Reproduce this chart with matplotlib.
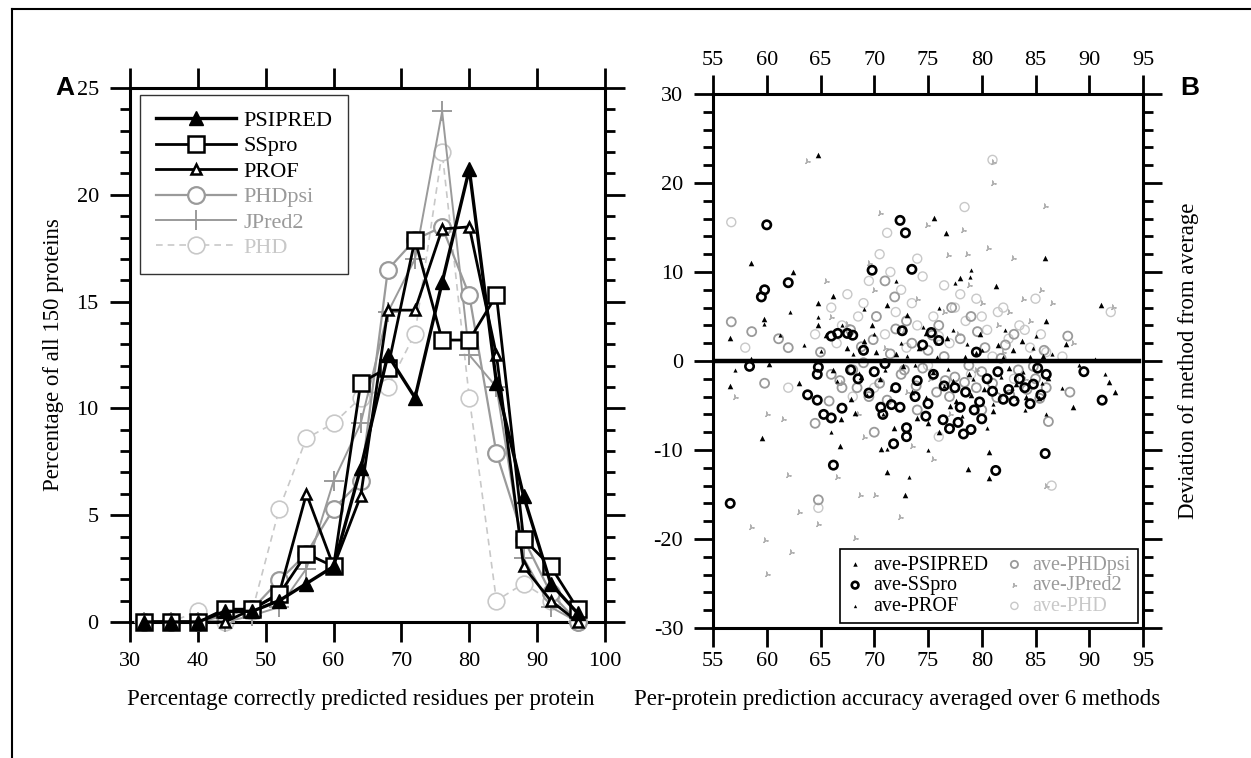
import matplotlib
matplotlib.use("Agg")
import matplotlib.pyplot as plt
from matplotlib.lines import Line2D
from matplotlib.ticker import MultipleLocator

plt.rcParams['font.family'] = ['Liberation Serif', 'DejaVu Serif']
plt.rcParams['axes.unicode_minus'] = False

# ---------------- Panel A data ----------------
bins = [32, 36, 40, 44, 48, 52, 56, 60, 64, 68, 72, 76, 80, 84, 88, 92, 96]
psipred = [0, 0, 0, 0.5, 0.5, 1.0, 1.8, 2.6, 7.2, 12.5, 10.5, 15.9, 21.2, 11.2, 5.9, 1.8, 0.4]
sspro = [0, 0, 0, 0.6, 0.6, 1.3, 3.2, 2.6, 11.2, 11.9, 17.9, 13.2, 13.2, 15.3, 3.9, 2.6, 0.6]
prof = [0, 0, 0, 0, 0.6, 1.35, 6.0, 2.6, 5.9, 14.6, 14.6, 18.4, 18.5, 12.5, 2.6, 1.0, 0]
phdpsi = [0, 0, 0, 0.3, 0.6, 1.95, 3.2, 5.3, 6.6, 16.5, 17.9, 18.5, 15.3, 7.9, 3.9, 1.35, 0]
jpred2 = [0, 0, 0, 0, 0.3, 0.7, 2.5, 6.6, 9.3, 14.5, 17.0, 23.9, 12.5, 11.0, 3.0, 0.7, 0]
phd = [0, 0, 0.5, 0, 0.5, 5.3, 8.6, 9.3, 10.5, 11.0, 13.5, 22.0, 10.5, 1.0, 1.8, 1.0, 0]

# ---------------- Panel B data ----------------
psi_x = [64.8, 75.6, 76.7, 85.9, 58.5, 62.4, 78.0, 81.3, 91.1, 64.8, 66.2, 71.2, 59.7, 56.6, 64.8,
         72.9, 71.2, 70.6, 59.6, 78.7, 80.7, 66.8, 56.6, 58.5, 60.2, 67.5, 69.0, 70.5, 72.0, 73.5,
         74.2, 75.5, 76.8, 77.6, 78.8, 79.5, 80.2, 81.5, 82.5, 83.2, 84.5, 85.3, 86.2, 87.8, 88.5,
         91.8, 92.4, 68.2, 71.8, 74.0, 76.0, 77.0, 65.5, 66.2, 63.0, 69.8, 73.0, 79.8, 83.7, 86.0,
         67.8, 80.7, 66.9, 68.8, 70.2, 72.7, 74.8, 77.3, 78.4, 81.0, 82.9, 84.1, 85.7, 75.0, 79.0]
psi_y = [23.1, 16.1, 14.4, 11.6, 11.0, 10.0, 9.3, 8.4, 6.3, 6.5, 7.3, 6.3, 4.7, 2.6, 4.0,
         -15.0, -12.5, -9.9, -8.6, -12.1, -13.1, -9.6, -2.8, 0.2, -0.3, 1.5, 2.2, -2.0, 0.8, -3.5,
         1.5, -1.2, 2.6, -4.5, -1.5, 0.9, -3.2, 1.8, -0.8, -2.6, 0.5, -4.2, -1.9, 1.9, -5.2,
         -2.4, -3.5, -5.8, -7.5, -6.4, -8.0, -5.0, 2.9, -1.0, -2.5, 4.1, 5.2, 3.0, 2.2, 4.5,
         -4.3, -10.2, -6.5, -1.8, 1.0, -0.6, 3.1, -2.2, 0.4, -5.6, 1.2, -4.0, 0.6, -7.0, -3.8]

ss_x = [60.0, 72.4, 72.9, 69.8, 73.5, 62.0, 59.8, 59.5, 66.6, 67.5, 72.6, 75.3, 56.6, 71.8, 66.2,
        81.3, 85.9, 91.2, 89.5, 58.4, 65.3, 66.0, 67.0, 64.7, 64.8, 63.8, 64.7, 70.6, 71.6, 72.4,
        73.0, 77.0, 78.3, 79.0, 77.8, 76.4, 79.3, 80.0, 82.0, 83.0, 83.5, 84.0, 68.5, 70.0, 71.0,
        74.0, 75.5, 76.5, 78.5, 80.5, 81.5, 84.8, 85.5, 86.0, 69.0, 72.0, 74.5, 76.0, 79.5, 66.0,
        73.0, 68.0, 69.5, 70.8, 73.8, 75.0, 77.5, 78.0, 79.8, 81.0, 82.5, 84.5, 85.2, 67.8, 74.8]
ss_y = [15.3, 15.8, 14.4, 10.2, 10.3, 8.8, 8.0, 7.2, 3.1, 3.1, 3.4, 3.2, -16.0, -9.3, -11.7,
        -12.3, -10.4, -4.4, -1.2, -0.6, -6.0, -6.4, -5.3, -1.5, -0.7, -3.8, -4.4, -5.2, -4.9, -5.2,
        -7.5, -7.6, -8.2, -7.7, -6.9, -6.6, -5.5, -6.5, -4.3, -4.5, -2.0, -3.0, -2.0, -1.2, -0.3,
        -2.2, -1.5, -2.8, -3.5, -2.0, -1.2, -2.6, -3.8, -1.5, 1.2, -3.0, 1.8, 2.3, 1.0, 2.8,
        -8.5, 2.9, -3.6, -6.0, -4.0, -4.8, -3.0, -5.2, -4.6, -3.4, -3.2, -4.8, -0.8, -1.0, -6.2]

prof_x = [64.8, 59.7, 61.2, 78.9, 71.2, 65.0, 66.5, 68.0, 69.3, 70.0, 71.0, 72.5, 73.8, 74.8, 75.8,
          76.5, 77.3, 78.2, 79.2, 80.0, 81.0, 82.0, 82.8, 83.8, 84.8, 85.6, 86.5, 89.0, 91.5, 57.0,
          62.2, 66.0, 75.0, 73.2, 77.5, 79.0, 84.0, 69.0, 72.0, 63.5, 70.8, 80.5, 86.0, 87.5, 90.5,
          67.0, 74.5, 76.0, 82.2, 85.0, 68.6, 71.6, 73.0, 76.9, 78.6, 81.8, 83.3]
prof_y = [5.0, 4.2, 2.9, 9.4, -9.9, 1.1, -2.2, 0.8, -3.8, 3.0, -1.0, 2.0, -0.5, -4.0, 0.5,
          -2.8, 3.5, -6.2, -2.0, 1.2, -4.8, 0.4, -3.0, -1.2, 1.5, -2.5, 0.8, -0.5, -1.5, -1.0,
          5.5, -8.0, -10.0, -13.0, 8.8, 10.2, -5.5, 5.8, 9.0, 1.8, -6.0, -7.5, -6.0, -3.0, 0.2,
          4.0, 3.8, 6.0, 3.5, 2.8, -1.4, -3.2, 0.6, -0.9, 1.9, -1.8, -4.2]

pp_x = [56.7, 58.6, 71.9, 70.2, 61.1, 64.8, 59.8, 62.0, 64.5, 65.0, 66.0, 67.0, 68.0, 68.8, 69.5,
        70.5, 71.5, 72.5, 73.5, 74.5, 75.0, 75.8, 76.5, 77.5, 78.0, 78.8, 79.5, 80.3, 81.0, 81.8,
        82.6, 83.4, 84.2, 85.0, 85.8, 86.2, 88.0, 88.2, 73.0, 76.0, 77.2, 79.0, 70.0, 74.0, 67.8,
        65.8, 83.0, 80.0, 71.0, 66.8, 68.4, 69.9, 71.2, 72.0, 73.9, 75.4, 77.0, 78.4, 80.0, 81.4,
        82.2, 84.8, 86.0, 85.4, 69.0, 72.8, 76.6, 79.6]
pp_y = [4.4, 3.3, 7.2, 5.0, 2.5, -15.6, -2.5, 1.5, -7.0, 1.0, -1.5, -3.0, -1.0, 1.6, -4.0,
        -2.5, 0.8, -1.5, 2.0, -0.8, 1.2, -3.5, 0.5, -1.8, 2.5, -0.5, -3.0, 1.5, -2.5, 0.3,
        -3.8, -1.0, -3.2, -2.0, 1.2, -6.8, 2.8, -3.5, 4.5, 4.0, 6.0, 5.0, -8.0, -5.5, 3.5,
        -4.5, 3.0, -5.5, 9.0, -2.2, -3.0, 2.4, -4.4, 3.6, -2.8, 2.9, -4.0, -2.4, -1.2, -4.1,
        1.8, -0.6, -3.0, -4.2, -0.2, -1.0, -2.2, 3.3]

jp_x = [63.7, 81.0, 81.0, 85.9, 70.5, 74.9, 78.3, 80.6, 82.9, 76.9, 78.6, 92.2, 58.5, 59.8, 62.3,
        60.0, 68.2, 64.8, 72.4, 68.7, 70.1, 62.0, 57.0, 60.0, 61.5, 66.0, 67.5, 68.5, 70.0, 71.5,
        72.8, 74.0, 75.2, 76.5, 77.8, 78.8, 80.0, 81.5, 82.5, 83.8, 84.5, 85.5, 86.5, 88.5, 73.5,
        75.5, 66.5, 77.0, 86.0, 63.0, 69.5, 65.5, 67.0, 69.0, 71.0, 73.0, 75.8, 79.5, 82.0, 84.0]
jp_y = [22.5, 22.4, 20.0, 17.4, 16.6, 15.3, 14.7, 12.7, 11.6, 11.9, 12.0, 6.1, -18.6, -20.1, -21.5,
        -23.9, -19.9, -18.3, -17.5, -15.0, -15.0, -12.8, -4.0, -6.0, -6.5, 5.0, 4.2, -6.0, 8.0, -4.5,
        3.5, 7.0, -2.0, 5.5, 3.0, 8.5, 6.5, 4.0, 5.5, 7.0, 4.5, 8.0, 6.5, 2.0, -9.5,
        -11.0, -13.0, -6.0, -14.0, -17.0, 11.0, 9.0, -2.5, -8.5, 1.5, -3.5, 2.0, -1.0, 1.0, -2.0]

phd_x = [56.7, 81.0, 78.4, 71.2, 64.8, 58.0, 62.0, 64.5, 66.0, 67.5, 68.5, 69.5, 70.5, 71.5, 72.5,
         73.5, 74.5, 75.5, 76.5, 77.5, 78.5, 79.5, 80.5, 81.5, 82.5, 83.5, 84.5, 85.5, 86.5, 87.5,
         92.0, 66.5, 70.0, 73.0, 75.0, 77.0, 79.0, 81.0, 83.0, 68.0, 85.0, 76.0, 74.0, 67.0, 69.0,
         71.0, 72.0, 74.0, 76.0, 78.0, 80.0, 82.0, 84.0, 86.0]
phd_y = [15.6, 22.6, 17.3, 14.4, -16.5, 1.5, -3.0, 3.0, 6.0, 7.5, 5.0, 9.0, 12.0, 10.0, 8.0,
         6.5, 9.5, 5.0, 8.5, 6.0, 4.5, 7.0, 3.5, 5.5, 2.5, 4.0, 1.5, 3.0, -14.0, 0.5,
         5.5, 2.0, -3.0, 1.5, -0.5, 2.0, -1.5, 0.5, -2.0, -4.0, 7.0, -8.5, 11.5, 4.0, 6.5,
         3.0, 5.5, 4.0, 2.8, 7.5, 5.0, 6.0, 3.5, 1.0]

names = ['PSIPRED', 'SSpro', 'PROF', 'PHDpsi', 'JPred2', 'PHD']

W, H = 1251, 758
fig = plt.figure(figsize=(W / 100, H / 100), dpi=100)

GREY = '#9a9a9a'
LGREY = '#c8c8c8'

def fx(px):
    return px / W

def fy(py):
    return 1 - py / H

# ---------------- Panel A ----------------
axA = fig.add_axes([fx(130), fy(622), fx(605) - fx(130), fy(88) - fy(622)])
axA.plot(bins, phd, color=LGREY, lw=1.2, ls=(0, (4, 3)), marker='o', ms=12, mfc='white',
         mec=LGREY, mew=1.2, label=names[5], clip_on=False, zorder=2)
axA.plot(bins, jpred2, color=GREY, lw=1.4, marker='+', ms=14, mew=1.4, label=names[4],
         clip_on=False, zorder=3)
axA.plot(bins, phdpsi, color=GREY, lw=1.6, marker='o', ms=12, mfc='white', mec=GREY, mew=1.6,
         label=names[3], clip_on=False, zorder=4)
axA.plot(bins, prof, color='black', lw=2.0, marker='^', ms=7, mfc='white', mec='black', mew=1.8,
         label=names[2], clip_on=False, zorder=5)
axA.plot(bins, sspro, color='black', lw=2.0, marker='s', ms=12, mfc='white', mec='black', mew=1.8,
         label=names[1], clip_on=False, zorder=5)
axA.plot(bins, psipred, color='black', lw=2.4, marker='^', ms=10, mfc='black', mec='black',
         label=names[0], clip_on=False, zorder=6)

axA.set_xlim(30, 100)
axA.set_ylim(0, 25)
axA.xaxis.set_major_locator(MultipleLocator(10))
axA.yaxis.set_major_locator(MultipleLocator(5))
axA.yaxis.set_minor_locator(MultipleLocator(1))
axA.tick_params(axis='both', which='both', direction='out', width=2.0, labelsize=16)
axA.tick_params(axis='x', which='major', length=14.5, pad=7, top=True)
axA.tick_params(axis='y', which='major', length=14.5, pad=8, right=True)
axA.tick_params(axis='y', which='minor', length=7, right=True)
for s in axA.spines.values():
    s.set_linewidth(2.2)
axA.set_xlabel('Percentage correctly predicted residues per protein', fontsize=16.6)
axA.xaxis.set_label_coords((361 - 130) / 475, (622 - 689) / 534)
axA.set_ylabel('Percentage of all 150 proteins', fontsize=16.5, labelpad=9)

h, l = axA.get_legend_handles_labels()
order = [5, 4, 3, 2, 1, 0]
leg = axA.legend([h[i] for i in order], [l[i] for i in order], loc='upper left',
                 bbox_to_anchor=(0.021, 0.987), borderaxespad=0, fontsize=16,
                 handlelength=3.6, handletextpad=0.35, labelspacing=0.22, borderpad=0.7,
                 fancybox=False, edgecolor='#333333', framealpha=1)
leg.get_frame().set_linewidth(1.0)
for t, c in zip(leg.get_texts(), ['black', 'black', 'black', GREY, GREY, LGREY]):
    t.set_color(c)

fig.text(fx(55), fy(88), 'A', fontsize=19, fontweight='bold', family='Liberation Sans',
         ha='left', va='center')

# ---------------- Panel B ----------------
axB = fig.add_axes([fx(713), fy(628), fx(1143) - fx(713), fy(94) - fy(628)])
axB.scatter(phd_x, phd_y, s=42, facecolors='none', edgecolors=LGREY, linewidths=1.0,
            label='ave-PHD', zorder=2)
axB.scatter(jp_x, jp_y, s=14, marker=(3, 2, 20), color='#b0b0b0', linewidths=0.9,
            label='ave-JPred2', zorder=3)
axB.scatter(pp_x, pp_y, s=42, facecolors='none', edgecolors=GREY, linewidths=1.3,
            label='ave-PHDpsi', zorder=3)
axB.scatter(prof_x, prof_y, s=9, marker='^', color='black', linewidths=0,
            label='ave-PROF', zorder=4)
axB.scatter(ss_x, ss_y, s=36, facecolors='none', edgecolors='black', linewidths=1.9,
            label='ave-SSpro', zorder=4)
axB.scatter(psi_x, psi_y, s=16, marker='^', color='black', linewidths=0,
            label='ave-PSIPRED', zorder=5)
axB.axhline(0, xmin=0, xmax=0.99, color='black', lw=3.2, zorder=6)

axB.set_xlim(55, 95)
axB.set_ylim(-30, 30)
axB.xaxis.set_major_locator(MultipleLocator(5))
axB.yaxis.set_major_locator(MultipleLocator(10))
axB.yaxis.set_minor_locator(MultipleLocator(2))
axB.tick_params(axis='both', which='both', direction='out', width=2.0, labelsize=16)
axB.tick_params(axis='x', which='major', length=13.5, pad=4, top=True, labeltop=True)
axB.tick_params(axis='y', which='major', length=13.5, pad=8, right=True)
axB.tick_params(axis='y', which='minor', length=7, right=True)
for s in axB.spines.values():
    s.set_linewidth(2.2)
axB.set_xlabel('Per-protein prediction accuracy averaged over 6 methods', fontsize=16.6)
axB.xaxis.set_label_coords((897 - 713) / 430, (628 - 689) / 534)
axB.set_ylabel('Deviation of method from average', fontsize=16.5, labelpad=12)
axB.yaxis.set_label_position('right')

hb, lb = axB.get_legend_handles_labels()
orderb = [5, 4, 3, 2, 1, 0]
legb = axB.legend([hb[i] for i in orderb], [lb[i] for i in orderb], loc='lower right',
                  bbox_to_anchor=(0.988, 0.009), borderaxespad=0, ncol=2, fontsize=14.5,
                  handlelength=0.8, handletextpad=0.5, labelspacing=0.08, columnspacing=0.9,
                  borderpad=0.35, fancybox=False, edgecolor='black', framealpha=1,
                  scatterpoints=1, markerscale=0.8)
legb.get_frame().set_linewidth(1.2)
for t, c in zip(legb.get_texts(), ['black', 'black', 'black', GREY, GREY, LGREY]):
    t.set_color(c)

fig.text(fx(1190), fy(88), 'B', fontsize=19, fontweight='bold', family='Liberation Sans',
         ha='center', va='center')

# page frame
fig.add_artist(Line2D([fx(12), fx(1251)], [fy(9), fy(9)], color='black', lw=1.5))
fig.add_artist(Line2D([fx(12), fx(12)], [fy(9), fy(758)], color='black', lw=1.5))

fig.savefig('out.png', dpi=100)
